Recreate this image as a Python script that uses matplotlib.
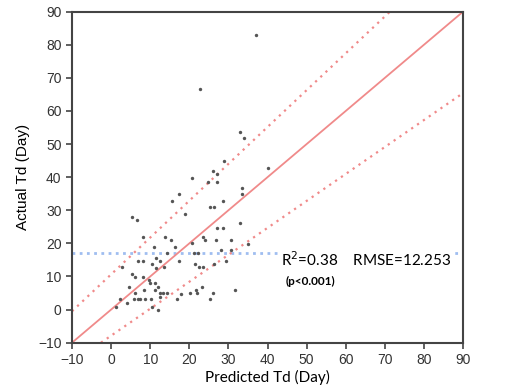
import matplotlib
matplotlib.use("Agg")
import matplotlib.pyplot as plt

# predicted vs actual Td (days)
predicted = [22.8, 37.1, 17.4, 20.8, 24.8, 26.0, 27.2, 27.1, 28.8, 33.0,
             33.9, 40.0, 33.6, 33.6, 15.6, 28.7, 25.4, 26.4, 18.9, 5.3,
             6.5, 27.1, 28.5, 32.9, 8.2, 13.9, 15.2, 23.6, 24.0, 26.8,
             30.7, 34.9, 20.8, 16.4, 11.0, 30.7, 28.2, 11.5, 10.4, 12.4,
             11.6, 21.3, 22.1, 17.4, 29.5, 7.0, 8.2, 2.8, 21.5, 22.4,
             23.4, 26.2, 13.6, 5.3, 6.2, 8.2, 9.9, 11.1, 12.0, 9.6,
             4.5, 6.2, 8.5, 11.1, 12.5, 13.4, 14.4, 20.3, 21.9, 21.7,
             23.2, 26.0, 31.8, 5.9, 7.0, 7.5, 8.7, 10.2, 12.5, 16.9,
             25.4, 2.4, 4.1, 1.3, 10.5, 12.1, 14.3, 18.0]
actual = [66.7, 83.1, 34.8, 39.7, 38.6, 41.8, 41.0, 38.6, 45.0, 53.7,
          51.8, 42.8, 36.8, 34.8, 32.9, 32.9, 31.1, 31.1, 28.9, 28.0,
          27.0, 24.7, 24.7, 26.1, 22.0, 22.0, 21.0, 22.0, 21.0, 21.0,
          21.0, 19.8, 20.0, 18.8, 18.8, 17.9, 17.9, 15.7, 13.7, 14.7,
          12.7, 17.0, 17.0, 14.8, 14.8, 14.8, 14.8, 13.0, 13.9, 13.0,
          13.0, 13.9, 13.0, 10.8, 9.8, 9.8, 7.9, 7.9, 6.9, 8.9,
          6.9, 5.1, 5.9, 5.9, 4.9, 4.9, 4.9, 4.9, 4.9, 5.9,
          6.9, 4.9, 5.9, 3.1, 3.1, 3.1, 3.1, 3.1, 3.9, 3.1,
          3.1, 3.1, 2.1, 0.9, 0.9, -0.1, 17.0, 4.7]

actual_mean = 17.0
axis_range = [-10, 90]
# dotted confidence bands (end points in data units)
upper_band_x = [-10, 71.3]
upper_band_y = [-0.5, 90]
lower_band_x = [-2.6, 90]
lower_band_y = [-10, 65.4]

fig = plt.figure(figsize=(5.24, 3.9), dpi=100)
ax = fig.add_axes([0.1374, 0.1213, 0.7462, 0.8487])

red = "#f08a8a"
ax.plot(axis_range, axis_range, color=red, lw=1.3, zorder=2)
ax.plot(upper_band_x, upper_band_y, color=red, lw=1.6, ls=(0, (1, 2.2)), zorder=2)
ax.plot(lower_band_x, lower_band_y, color=red, lw=1.6, ls=(0, (1, 2.2)), zorder=2)
ax.axhline(actual_mean, color="#9fbdf0", lw=2, ls=(0, (1, 1.6)), zorder=1)

ax.scatter(predicted, actual, s=6, color="#555555", zorder=3, linewidths=0)

ax.text(43.5, 15.0, "R$^2$=0.38    RMSE=12.253", fontsize=11, family="Lato",
        va="center", ha="left", zorder=4,
        bbox=dict(facecolor="white", edgecolor="none", pad=2))
ax.text(44.6, 8.4, "(p<0.001)", fontsize=8.5, family="Lato", weight="bold",
        va="center", ha="left", zorder=4)

ax.set_xlim(axis_range)
ax.set_ylim(axis_range)
ax.set_xticks(range(-10, 91, 10))
ax.set_yticks(range(-10, 91, 10))
for s in ax.spines.values():
    s.set_linewidth(1.5)
    s.set_color("#444444")
ax.tick_params(direction="out", length=4, width=1.2, color="#444444",
               labelsize=10, labelcolor="#333333")
for lab in ax.get_xticklabels() + ax.get_yticklabels():
    lab.set_family("Liberation Sans")

ax.set_xlabel("Predicted Td (Day)", fontsize=11, family="Lato", labelpad=2)
ax.set_ylabel("Actual Td (Day)", fontsize=11, family="Liberation Sans", labelpad=6)

fig.savefig("out.png", dpi=100)
